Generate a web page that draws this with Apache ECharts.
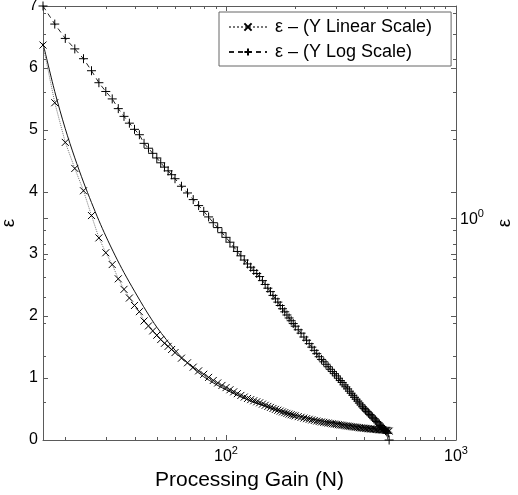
<!DOCTYPE html>
<html><head><meta charset="utf-8">
<script src="https://cdn.jsdelivr.net/npm/echarts@6/dist/echarts.min.js"></script>
<style>html,body{margin:0;padding:0;background:#fff}#c{width:518px;height:495px}</style>
</head><body><div id="c"></div>
<script>
// Measured data: processing gain N and error epsilon
const gainN = [16,18,20,22,24,26,28,30,32,34,36,38,40,42,44,
  46,48,50,52,54,56,58,60,
  64,68,72,76,80,84,88,92,96,100,
  104,108,112,116,120,124,128,132,136,140,144,148,152,156,160,164,168,172,176,180,184,188,192,196,200,
  206,212,218,224,230,236,242,248,254,260,266,272,278,284,290,296,302,308,314,320,326,332,338,344,350,356,362,368,374,380,386,392,398,404,410,416,422,428,434,440,446,452,458,464,470,476,482,488,494,500,506,512];
const epsilon = [6.37,5.44,4.80,4.38,4.02,3.62,3.26,3.02,2.83,2.60,2.43,2.29,2.17,2.07,1.92,
  1.84,1.76,1.69,1.62,1.56,1.51,1.46,1.41,
  1.32,1.245,1.175,1.115,1.06,1.01,0.96,0.92,0.88,0.845,
  0.81,0.777,0.747,0.719,0.693,0.67,0.651,0.633,0.616,0.60,0.579,0.56,0.542,0.526,0.509,0.494,0.48,0.466,0.453,0.441,0.429,0.418,0.408,0.398,0.389,
  0.377,0.366,0.354,0.344,0.334,0.324,0.315,0.306,0.298,0.291,0.285,0.279,0.273,0.267,0.262,0.257,0.252,0.247,0.242,0.238,0.233,0.229,0.225,0.2205,0.2166,0.2128,0.209,0.2056,0.2022,0.1988,0.1956,0.1925,0.1898,0.1873,0.1848,0.1824,0.180,0.1778,0.1756,0.1734,0.1713,0.1693,0.1673,0.1653,0.1634,0.1616,0.1598,0.158,0.1563,0.1546,0.1529,0.144];
// Solid reference curve
const theoryN = [16,18,20,22,24,26,28,30,33,36,40,45,50,55,60,65,70,75,80,90,100,115,130,150,175,200,250,300,350,400,450,512];
const theoryEps = [6.40,5.62,5.02,4.55,4.16,3.83,3.54,3.29,2.97,2.70,2.40,2.08,1.82,1.62,1.45,1.31,1.20,1.10,1.02,0.90,0.81,0.70,0.62,0.54,0.46,0.40,0.32,0.27,0.23,0.20,0.178,0.156];
// Axis tick values
const xMinorTicks = [20,30,40,50,60,70,80,90,200,300,400,500,600,700,800,900];
const yLogMinorTicks = [0.2,0.3,0.4,0.5,0.6,0.7,0.8,0.9,2,3,4,5,6];
const yLogMajorTicks = [1];
const yLinearTicks = [0,1,2,3,4,5,6,7];
const xRange = [16, 1000];
const yLinRange = [0, 7];
const yLogRange = [0.144, 6.37];
const legendNames = ['\u03b5 \u2013 (Y Linear Scale)', '\u03b5 \u2013 (Y Log Scale)'];

const FONT = 'Liberation Sans, Arial, Helvetica, sans-serif';
const AX = '#5a5a5a';
const chart = echarts.init(document.getElementById('c'), null, {renderer: 'canvas'});

const powFmt = v => {
  const e = Math.log10(v), r = Math.round(e);
  return Math.abs(e - r) < 1e-6 ? '{b|10}{s|' + r + '}' : '';
};
const powRich = {
  b: {fontSize: 16, fontFamily: FONT, color: '#000', verticalAlign: 'bottom'},
  s: {fontSize: 11, fontFamily: FONT, color: '#000', verticalAlign: 'bottom', padding: [0, 0, 9, 0]}
};
const crossSym = 'path://M0,0L10,10M10,0L0,10';
const plusSym = 'path://M5,0L5,10M0,5L10,5';

const option = {
  animation: false,
  backgroundColor: '#fff',
  grid: {left: 43, right: 62, top: 6, bottom: 55, containLabel: false, outerBoundsMode: 'none'},
  legend: {
    data: legendNames,
    orient: 'vertical',
    left: 219, top: 12,
    padding: [6, 19, 5, 9],
    itemGap: 7,
    itemWidth: 38, itemHeight: 9,
    backgroundColor: '#fff',
    borderColor: '#666', borderWidth: 1, borderRadius: 0,
    textStyle: {fontSize: 18, fontFamily: FONT, color: '#000', padding: [0, 0, 0, 3]}
  },
  xAxis: [{
    type: 'log', min: xRange[0], max: xRange[1], position: 'bottom',
    name: 'Processing Gain (N)', nameLocation: 'middle', nameGap: 20,
    nameTextStyle: {fontSize: 21, fontFamily: FONT, color: '#000'},
    axisLine: {show: true, lineStyle: {color: AX, width: 1}},
    axisTick: {show: true, inside: true, length: 5, lineStyle: {color: AX}},
    axisLabel: {formatter: powFmt, rich: powRich, margin: 5, showMinLabel: false},
    splitLine: {show: false}
  }, {
    type: 'log', min: xRange[0], max: xRange[1], position: 'top',
    axisLine: {show: true, lineStyle: {color: AX, width: 1}},
    axisTick: {show: true, inside: true, length: 5, lineStyle: {color: AX}},
    axisLabel: {show: false}, splitLine: {show: false}
  }],
  yAxis: [{
    type: 'value', min: yLinRange[0], max: yLinRange[1], interval: 1, position: 'left',
    name: '\u03b5', nameLocation: 'middle', nameGap: 22,
    nameTextStyle: {fontSize: 19, fontFamily: FONT, color: '#000'},
    axisLine: {show: true, lineStyle: {color: AX, width: 1}},
    axisTick: {show: true, inside: true, length: 5, lineStyle: {color: AX}},
    axisLabel: {fontSize: 16, fontFamily: FONT, color: '#000', margin: 5},
    splitLine: {show: false}
  }, {
    type: 'log', min: yLogRange[0], max: yLogRange[1], position: 'right',
    name: '\u03b5', nameLocation: 'middle', nameGap: 24,
    nameTextStyle: {fontSize: 19, fontFamily: FONT, color: '#000'},
    axisLine: {show: true, lineStyle: {color: AX, width: 1}},
    axisTick: {show: true, inside: true, length: 5, lineStyle: {color: AX}},
    axisLabel: {formatter: powFmt, rich: powRich, margin: 4, showMinLabel: false, showMaxLabel: false},
    splitLine: {show: false}
  }],
  series: [{
    name: legendNames[0], type: 'line', xAxisIndex: 0, yAxisIndex: 0,
    data: gainN.map((n, i) => [n, epsilon[i]]),
    symbol: crossSym, symbolSize: 7, showAllSymbol: true,
    lineStyle: {color: '#777', width: 1, type: 'dotted'},
    itemStyle: {color: 'none', borderColor: '#000', borderWidth: 1},
    z: 3
  }, {
    name: legendNames[1], type: 'line', xAxisIndex: 0, yAxisIndex: 1,
    data: gainN.map((n, i) => [n, epsilon[i]]),
    symbol: plusSym, symbolSize: 9, showAllSymbol: true,
    lineStyle: {color: '#222', width: 1, type: [5, 4]},
    itemStyle: {color: 'none', borderColor: '#000', borderWidth: 1},
    z: 3
  }, {
    name: 'theory', type: 'line', xAxisIndex: 0, yAxisIndex: 0,
    data: theoryN.map((n, i) => [n, theoryEps[i]]),
    symbol: 'none', smooth: 0.3,
    lineStyle: {color: '#111', width: 1, type: 'solid'},
    z: 2
  }]
};
chart.setOption(option);

// Mirrored and minor ticks placed through the axes' own scales
function tickLines() {
  const els = [];
  const x0 = chart.convertToPixel({xAxisIndex: 0}, xRange[0]);
  const x1 = chart.convertToPixel({xAxisIndex: 0}, xRange[1]);
  const yb = chart.convertToPixel({yAxisIndex: 0}, yLinRange[0]);
  const yt = chart.convertToPixel({yAxisIndex: 0}, yLinRange[1]);
  const st = {stroke: AX, lineWidth: 1};
  const line = (a, b, c, d) => els.push({type: 'line', silent: true, z: 10,
    shape: {x1: a, y1: b, x2: c, y2: d}, style: st});
  xMinorTicks.forEach(v => {
    const x = Math.round(chart.convertToPixel({xAxisIndex: 0}, v)) + 0.5;
    line(x, yb, x, yb - 3);
    line(x, yt, x, yt + 3);
  });
  yLogMinorTicks.forEach(v => {
    const y = Math.round(chart.convertToPixel({yAxisIndex: 1}, v)) + 0.5;
    line(x0, y, x0 + 3, y);
    line(x1, y, x1 - 3, y);
  });
  yLogMajorTicks.forEach(v => {
    const y = Math.round(chart.convertToPixel({yAxisIndex: 1}, v)) + 0.5;
    line(x0, y, x0 + 5, y);
  });
  yLinearTicks.forEach(v => {
    const y = Math.round(chart.convertToPixel({yAxisIndex: 0}, v)) + 0.5;
    line(x1, y, x1 - 5, y);
  });
  return els;
}
chart.setOption({graphic: tickLines()});
</script>
</body></html>
